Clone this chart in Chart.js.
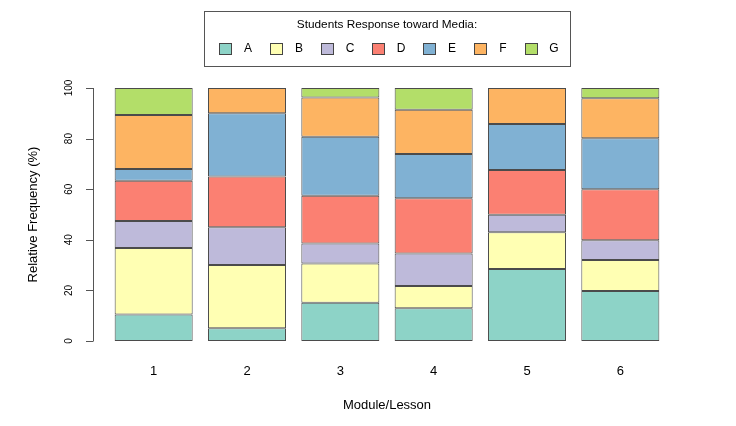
<!DOCTYPE html>
<html>
<head>
<meta charset="utf-8">
<script src="https://cdn.jsdelivr.net/npm/chart.js@4.4.0/dist/chart.umd.js"></script>
<style>
  html, body { margin: 0; padding: 0; background: #fff; }
  #wrap { width: 736px; height: 426px; }
</style>
</head>
<body>
<div id="wrap"><canvas id="chart" width="736" height="426"></canvas></div>
<script>
// moduli / lezioni
const modules = ['1', '2', '3', '4', '5', '6'];
const responses = ['A', 'B', 'C', 'D', 'E', 'F', 'G'];
const yTicks = [0, 20, 40, 60, 80, 100];

// frequenze relative (%) per risposta, una voce per modulo
const respA = [10.5, 5.0, 15.1, 12.9, 28.5, 19.8];
const respB = [26.3, 25.0, 15.5, 8.8, 14.5, 12.2];
const respC = [10.6, 15.0, 7.9, 12.9, 6.9, 7.8];
const respD = [15.9, 20.0, 18.9, 21.8, 17.7, 20.2];
const respE = [4.7, 25.0, 23.3, 17.5, 18.2, 20.1];
const respF = [21.3, 10.0, 15.5, 17.5, 14.2, 15.8];
const respG = [10.7, 0.0, 3.8, 8.6, 0.0, 4.1];

const colors = ['#8DD3C7', '#FFFFB3', '#BEBADA', '#FB8072', '#80B1D3', '#FDB462', '#B3DE69'];
const series = [respA, respB, respC, respD, respE, respF, respG];

const FONT = '"Liberation Sans", Arial, Helvetica, sans-serif';

// assi e legenda in stile R, disegnati con le scale di Chart.js
const rStyle = {
    id: 'rStyle',
    afterDraw(chart) {
        const ctx = chart.ctx;
        const y = chart.scales.y;
        const x = chart.scales.x;
        const axX = 93;
        ctx.save();

        // asse y
        ctx.strokeStyle = '#555';
        ctx.lineWidth = 1;
        ctx.beginPath();
        ctx.moveTo(axX + 0.5, y.getPixelForValue(0));
        ctx.lineTo(axX + 0.5, y.getPixelForValue(100));
        yTicks.forEach(v => {
            const py = Math.round(y.getPixelForValue(v)) + 0.5;
            ctx.moveTo(axX + 0.5, py);
            ctx.lineTo(axX - 7, py);
        });
        ctx.stroke();

        ctx.fillStyle = '#000';
        ctx.font = '10px ' + FONT;
        ctx.textAlign = 'center';
        ctx.textBaseline = 'middle';
        yTicks.forEach(v => {
            ctx.save();
            ctx.translate(69, y.getPixelForValue(v));
            ctx.rotate(-Math.PI / 2);
            ctx.fillText(String(v), 0, 0);
            ctx.restore();
        });

        // titolo asse y
        ctx.save();
        ctx.font = '13px ' + FONT;
        ctx.translate(33, (y.getPixelForValue(0) + y.getPixelForValue(100)) / 2);
        ctx.rotate(-Math.PI / 2);
        ctx.fillText('Relative Frequency (%)', 0, 0);
        ctx.restore();

        // etichette asse x
        ctx.font = '13px ' + FONT;
        modules.forEach((m, i) => {
            ctx.fillText(m, x.getPixelForTick(i), 371);
        });
        ctx.fillText('Module/Lesson', 387, 405);

        // legenda
        ctx.strokeStyle = '#555';
        ctx.lineWidth = 1;
        ctx.strokeRect(204.5, 11.5, 366, 55);
        ctx.font = '11.8px ' + FONT;
        ctx.fillText('Students Response toward Media:', 387, 25);
        chart.data.datasets.forEach((ds, i) => {
            const bx = 219 + i * 51;
            ctx.fillStyle = ds.backgroundColor;
            ctx.fillRect(bx, 43, 12, 11);
            ctx.strokeStyle = '#444';
            ctx.strokeRect(bx + 0.5, 43.5, 12, 11);
            ctx.fillStyle = '#000';
            ctx.font = '12px ' + FONT;
            ctx.fillText(ds.label, bx + 29, 49);
        });

        ctx.restore();
    }
};

new Chart(document.getElementById('chart'), {
    type: 'bar',
    data: {
        labels: modules,
        datasets: responses.map((r, i) => ({
            label: r,
            data: series[i],
            backgroundColor: colors[i],
            borderColor: 'rgba(30,30,30,0.8)',
            borderWidth: 1,
            borderSkipped: false,
            categoryPercentage: 1,
            barPercentage: 0.836
        }))
    },
    options: {
        responsive: false,
        animation: false,
        layout: { padding: { left: 107, right: 69, top: 88, bottom: 85 } },
        plugins: {
            legend: { display: false },
            tooltip: { enabled: false }
        },
        scales: {
            x: { stacked: true, display: false },
            y: { stacked: true, display: false, min: 0, max: 100 }
        }
    },
    plugins: [rStyle]
});
</script>
</body>
</html>
